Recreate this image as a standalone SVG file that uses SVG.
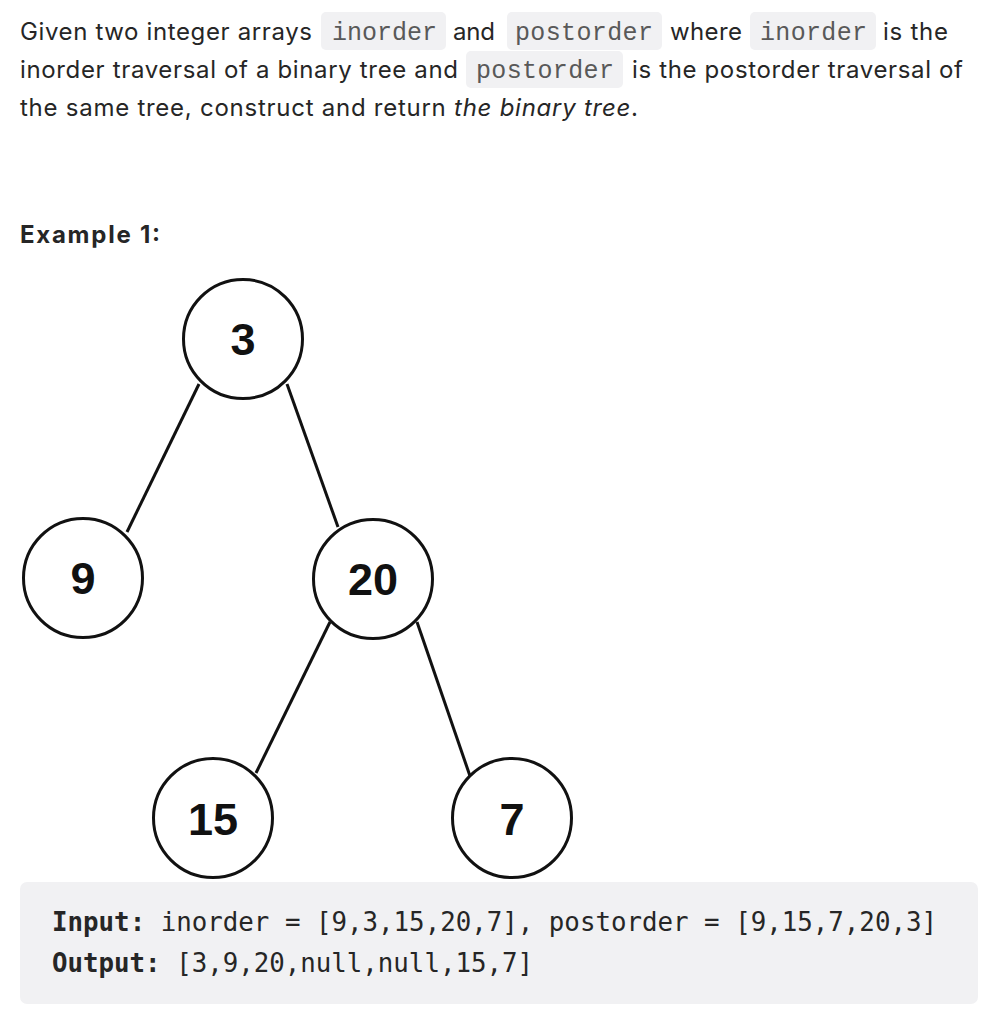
<svg xmlns="http://www.w3.org/2000/svg" width="992" height="1014" viewBox="0 0 992 1014">
<style>
.p{font-family:Inter,"Noto Sans","Liberation Sans",sans-serif;font-size:24px;fill:#262626}
.c{font-family:"Liberation Mono","DejaVu Sans Mono",monospace;font-size:25px;fill:#595959}
.cb{fill:#f1f1f3}
.n circle{fill:#fff;stroke:#111;stroke-width:3}
.n text{font-family:"Liberation Sans",Arial,sans-serif;font-weight:bold;font-size:45px;fill:#111;text-anchor:middle}
.e line{stroke:#111;stroke-width:3}
.code{font-family:"DejaVu Sans Mono","Liberation Mono",monospace;font-size:26px;fill:#262626}
</style>
<rect width="992" height="1014" fill="#fff"/>
<g id="description">
<rect class="cb" x="321" y="12" width="125" height="38" rx="5"/>
<rect class="cb" x="507" y="12" width="155" height="38" rx="5"/>
<rect class="cb" x="750" y="12" width="126" height="38" rx="5"/>
<rect class="cb" x="466" y="51" width="157" height="37" rx="5"/>
<text class="p" x="20" y="40" textLength="292">Given two integer arrays</text>
<text class="c" x="332" y="40" textLength="105">inorder</text>
<text class="p" x="453" y="40" textLength="42">and</text>
<text class="c" x="515" y="40" textLength="138">postorder</text>
<text class="p" x="670" y="40" textLength="72">where</text>
<text class="c" x="760" y="40" textLength="107">inorder</text>
<text class="p" x="883" y="40" textLength="65">is the</text>
<text class="p" x="20" y="78" textLength="438">inorder traversal of a binary tree and</text>
<text class="c" x="476" y="78" textLength="138">postorder</text>
<text class="p" x="632" y="78" textLength="331">is the postorder traversal of</text>
<text class="p" x="20" y="116" textLength="618">the same tree, construct and return <tspan font-style="italic">the binary tree</tspan>.</text>
<text class="p" x="20" y="243" font-weight="bold" textLength="140">Example 1:</text>
</g>
<g id="edges" class="e">
<line x1="199" y1="384" x2="127" y2="532"/>
<line x1="287" y1="384" x2="338" y2="527"/>
<line x1="330" y1="622" x2="256" y2="773"/>
<line x1="417" y1="622" x2="470" y2="776"/>
</g>
<g id="node-3" class="n"><circle cx="243" cy="339" r="59.5"/><text x="243" y="355">3</text></g>
<g id="node-9" class="n"><circle cx="83" cy="578" r="59.5"/><text x="83" y="594">9</text></g>
<g id="node-20" class="n"><circle cx="373" cy="579" r="59.5"/><text x="373" y="595">20</text></g>
<g id="node-15" class="n"><circle cx="213" cy="818" r="59.5"/><text x="213" y="835">15</text></g>
<g id="node-7" class="n"><circle cx="512" cy="818" r="59.5"/><text x="512" y="835">7</text></g>
<g id="example">
<rect x="20" y="882" width="958" height="122" rx="7" fill="#f1f1f3"/>
<text class="code" x="52" y="931" textLength="885" lengthAdjust="spacingAndGlyphs"><tspan font-weight="bold">Input:</tspan> inorder = [9,3,15,20,7], postorder = [9,15,7,20,3]</text>
<text class="code" x="52" y="972" textLength="481" lengthAdjust="spacingAndGlyphs"><tspan font-weight="bold">Output:</tspan> [3,9,20,null,null,15,7]</text>
</g>
</svg>
